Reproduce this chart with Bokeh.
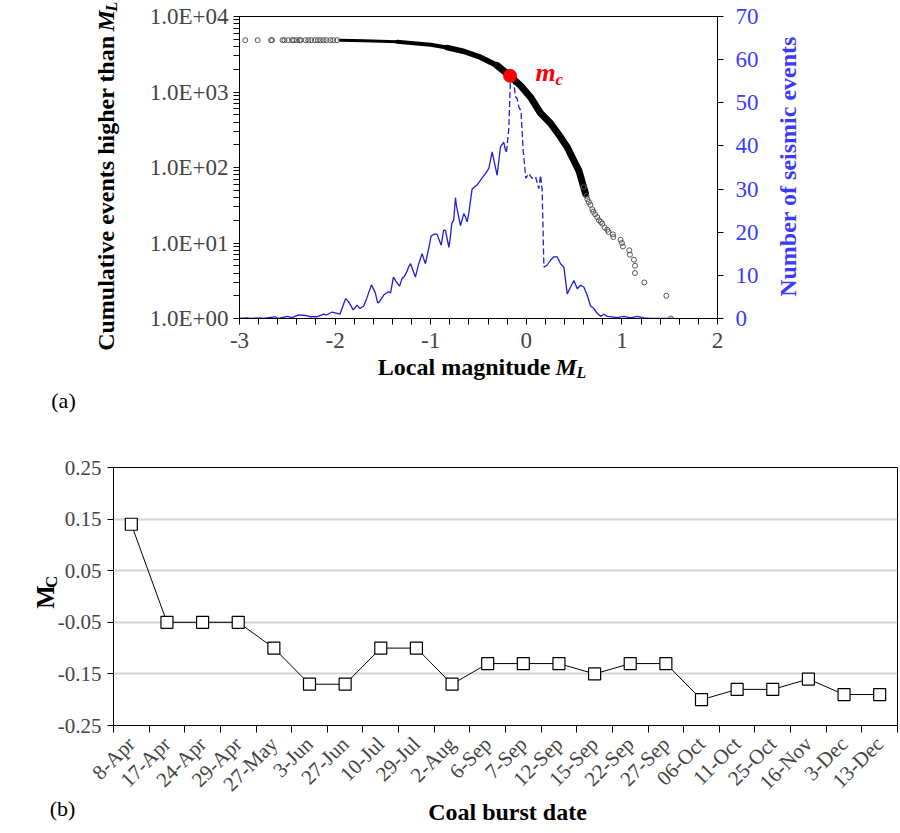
import math

from bokeh.embed import file_html
from bokeh.layouts import column
from bokeh.models import FixedTicker, Label, LinearAxis, LinearScale, Range1d
from bokeh.plotting import figure
from bokeh.resources import INLINE

# ---------------------------------------------------------------------------
# (a) magnitude distribution
# ---------------------------------------------------------------------------
# number of seismic events per magnitude bin
hist_mag = [
    -3.00, -2.92, -2.89, -2.78, -2.75, -2.63, -2.59, -2.50, -2.45, -2.38,
    -2.31, -2.26, -2.19, -2.12, -2.09, -2.03, -1.98, -1.95, -1.89, -1.86,
    -1.81, -1.77, -1.74, -1.70, -1.67, -1.62, -1.58, -1.555, -1.54, -1.49,
    -1.44, -1.42, -1.39, -1.36, -1.325, -1.30, -1.28, -1.25, -1.23, -1.21,
    -1.16, -1.125, -1.09, -1.055, -1.01, -0.996, -0.96, -0.933, -0.89, -0.865,
    -0.846, -0.81, -0.794, -0.78, -0.759, -0.741, -0.731, -0.689, -0.654, -0.637,
    -0.619, -0.602, -0.567, -0.514, -0.462, -0.427, -0.392, -0.357, -0.305, -0.270,
    -0.236, -0.218, -0.207, -0.183, -0.165, -0.148, -0.131, -0.113, -0.096, -0.078,
    -0.061, -0.054, -0.033, -0.005, 0.026, 0.061, 0.096, 0.131, 0.149, 0.166,
    0.184, 0.219, 0.253, 0.288, 0.323, 0.358, 0.393, 0.428, 0.463, 0.498,
    0.533, 0.567, 0.602, 0.637, 0.672, 0.707, 0.742, 0.777, 0.812, 0.847,
    0.899, 0.951, 1.021, 1.091, 1.161, 1.231, 1.301, 1.545,
]
hist_count = [
    0.0, 0.15, 0.0, 0.15, 0.0, 0.4, 0.0, 0.5, 0.2, 0.85,
    0.7, 0.4, 0.4, 1.0, 0.8, 1.5, 1.2, 1.0, 4.6, 3.9,
    2.0, 3.1, 2.3, 2.9, 4.6, 7.8, 6.0, 3.6, 3.8, 5.5,
    6.2, 5.9, 9.6, 8.5, 7.5, 9.3, 9.6, 10.8, 12.0, 12.7,
    9.6, 12.7, 15.0, 12.7, 17.4, 19.1, 19.6, 19.5, 17.0, 20.4,
    20.5, 16.5, 18.9, 22.0, 22.8, 28.0, 26.2, 21.5, 24.3, 23.6,
    22.4, 24.3, 30.0, 31.0, 32.6, 33.6, 34.8, 38.6, 33.2, 39.8,
    40.9, 39.0, 38.6, 44.0, 56.0, 56.4, 54.5, 51.4, 51.0, 49.1,
    48.3, 47.5, 39.0, 32.5, 33.6, 32.5, 32.9, 30.1, 33.2, 29.8,
    11.9, 12.4, 13.5, 14.3, 14.3, 12.7, 11.9, 5.7, 7.3, 8.8,
    6.9, 7.7, 7.3, 5.4, 2.9, 2.3, 1.2, 0.5, 1.0, 0.5,
    0.4, 0.2, 0.5, 0.15, 0.5, 0.15, 0.0, 0.0,
]

# cumulative number of events with magnitude higher than M_L
cum_left_mag = [
    -2.94, -2.81, -2.67, -2.66, -2.55, -2.53, -2.49, -2.45, -2.43, -2.40,
    -2.37, -2.36, -2.31, -2.28, -2.25, -2.21, -2.18, -2.15, -2.12, -2.09,
    -2.05, -2.02, -1.98,
]
cum_left_n = [4860] * len(cum_left_mag)

cum_mag = [
    -1.95, -1.70, -1.35, -1.18, -1.00, -0.83, -0.65, -0.48, -0.305, -0.173,
    -0.061, 0.044, 0.149, 0.253, 0.358, 0.428, 0.497, 0.550, 0.585, 0.620,
]
cum_n = [
    4860, 4764, 4619, 4436, 4217, 3884, 3436, 2891, 2244, 1637,
    1219, 854, 525, 386, 253, 186, 124, 91, 64, 45,
]

cum_right_mag = [
    0.60, 0.63, 0.64, 0.654, 0.67, 0.69, 0.70, 0.72, 0.742, 0.76,
    0.78, 0.795, 0.82, 0.847, 0.86, 0.906, 0.910, 0.986, 1.000, 1.011,
    1.077, 1.084, 1.126, 1.137, 1.137, 1.234, 1.465, 1.513,
]
cum_right_n = [
    55, 42, 38, 35, 32, 28, 26, 24, 22, 20,
    19, 18, 16, 15, 14, 13, 12, 11, 10, 9,
    8, 7, 6, 5, 4, 3, 2, 1,
]

# magnitude of completeness
mc_mag = -0.17
mc_n = 1640

x_major = [-3, -2, -1, 0, 1, 2]
x_minor = [-2.8, -2.6, -2.4, -2.2, -1.8, -1.6, -1.4, -1.2, -0.8, -0.6, -0.4,
           -0.2, 0.2, 0.4, 0.6, 0.8, 1.2, 1.4, 1.6, 1.8]
log_major = [1, 10, 100, 1000, 10000]
log_labels = ["1.0E+00", "1.0E+01", "1.0E+02", "1.0E+03", "1.0E+04"]
count_ticks = [0, 10, 20, 30, 40, 50, 60, 70]

# ---------------------------------------------------------------------------
# (b) M_C per coal burst
# ---------------------------------------------------------------------------
burst_dates = [
    "8-Apr", "17-Apr", "24-Apr", "29-Apr", "27-May", "3-Jun", "27-Jun",
    "10-Jul", "29-Jul", "2-Aug", "6-Sep", "7-Sep", "12-Sep", "15-Sep",
    "22-Sep", "27-Sep", "06-Oct", "11-Oct", "25-Oct", "16-Nov", "3-Dec",
    "13-Dec",
]
mc_values = [
    0.14, -0.05, -0.05, -0.05, -0.10, -0.17, -0.17, -0.10, -0.10, -0.17,
    -0.13, -0.13, -0.13, -0.15, -0.13, -0.13, -0.20, -0.18, -0.18, -0.16,
    -0.19, -0.19,
]
mc_ticks = [-0.25, -0.15, -0.05, 0.05, 0.15, 0.25]
mc_tick_labels = ["-0.25", "-0.15", "-0.05", "0.05", "0.15", "0.25"]

SERIF = "Liberation Serif"
BLUE_LINE = "#1f1fd8"
BLUE_TEXT = "#3b3bff"

# ---------------------------------------------------------------------------
# top panel
# ---------------------------------------------------------------------------
TOP_W, TOP_H = 900, 414
F_LEFT, F_TOP, F_W, F_H = 239, 16, 478, 302

p1 = figure(
    width=TOP_W, height=TOP_H,
    x_range=Range1d(-3, 2), y_range=Range1d(1, 10000), y_axis_type="log",
    output_backend="svg", toolbar_location=None,
    min_border_left=F_LEFT, min_border_right=TOP_W - F_LEFT - F_W,
    min_border_top=F_TOP, min_border_bottom=TOP_H - F_TOP - F_H,
)
p1.frame_align = False
p1.grid.visible = False
p1.outline_line_color = "black"
p1.outline_line_width = 1

p1.extra_y_ranges = {"count": Range1d(0, 70)}
p1.extra_y_scales = {"count": LinearScale()}
right_axis = LinearAxis(y_range_name="count")
p1.add_layout(right_axis, "right")

xa = p1.xaxis[0]
xa.ticker = FixedTicker(ticks=x_major, minor_ticks=x_minor)
xa.major_label_overrides = {v: str(v) for v in x_major}

ya = p1.yaxis[0]
ya.ticker = FixedTicker(
    ticks=log_major,
    minor_ticks=[m * 10 ** d for d in range(4) for m in range(2, 10)],
)
ya.major_label_overrides = dict(zip(log_major, log_labels))

right_axis.ticker = FixedTicker(ticks=count_ticks)
right_axis.major_label_text_color = BLUE_TEXT

for ax in (xa, ya, right_axis):
    ax.axis_line_color = "black"
    ax.axis_line_width = 1
    ax.major_tick_line_color = "black"
    ax.minor_tick_line_color = "black"
    ax.major_tick_in = 0
    ax.major_tick_out = 6
    ax.minor_tick_in = 0
    ax.minor_tick_out = 6
    ax.major_label_text_font = SERIF
    ax.major_label_text_font_size = "23px"
xa.major_label_standoff = 8
ya.major_label_standoff = 5
right_axis.major_label_standoff = 12

# events per bin: solid, dashed around the peak, solid again
lo, hi = -0.207, 0.184
seg1 = [(m, c) for m, c in zip(hist_mag, hist_count) if m <= lo]
seg2 = [(m, c) for m, c in zip(hist_mag, hist_count) if lo <= m <= hi]
seg3 = [(m, c) for m, c in zip(hist_mag, hist_count) if m >= hi]
for seg, dash in ((seg1, "solid"), (seg2, "6 3"), (seg3, "solid")):
    p1.line([s[0] for s in seg], [s[1] for s in seg], y_range_name="count",
            line_color=BLUE_LINE, line_width=1.3, line_dash=dash)

# cumulative curve: dense band where the event markers merge
bands = ((-1.96, -1.35, 3), (-1.35, -0.83, 4), (-0.83, -0.305, 5.5),
         (-0.305, 0.63, 7))
for a, b, w in bands:
    sel = [(m, n) for m, n in zip(cum_mag, cum_n) if a <= m <= b]
    p1.line([s[0] for s in sel], [s[1] for s in sel], line_color="black",
            line_width=w, line_cap="round", line_join="round")

p1.scatter(cum_left_mag, cum_left_n, marker="circle", size=5,
           fill_color=None, line_color="#555555", line_width=1)
p1.scatter(cum_right_mag, cum_right_n, marker="circle", size=5,
           fill_color=None, line_color="#555555", line_width=1)

p1.scatter([mc_mag], [mc_n], marker="circle", size=13, fill_color="red",
           line_color="red")


def top_xy(cx, cy):
    """canvas pixel -> data coordinates of the top panel"""
    x = -3 + (cx - F_LEFT) * 5.0 / F_W
    y = 10 ** (4 - (cy - F_TOP) * 4.0 / F_H)
    return x, y


def add_text(p, xy, text, size, style="normal", color="black", align="center",
             angle=0.0, side="center"):
    lab = Label(x=xy[0], y=xy[1], text=text, text_font=SERIF,
                text_font_size=size, text_font_style=style, text_color=color,
                text_align=align, text_baseline="middle", angle=angle)
    p.add_layout(lab, side)


add_text(p1, top_xy(535, 72), "m", "26px", "bold italic", "red", "left")
add_text(p1, top_xy(555, 79), "c", "17px", "bold italic", "red", "left")

# texts around the frame sit in side panels, so that they are not clipped
add_text(p1, top_xy(550, 366), "Local magnitude", "24px", "bold",
         align="right", side="below")
add_text(p1, top_xy(555, 366), "M", "24px", "bold italic", align="left",
         side="right")
add_text(p1, top_xy(576, 372), "L", "16px", "bold italic", align="left",
         side="right")
add_text(p1, top_xy(63, 400), "(a)", "22px", side="right")

add_text(p1, top_xy(105, 35), "Cumulative events higher than", "24px", "bold",
         align="right", angle=math.pi / 2, side="left")
add_text(p1, top_xy(105, 31), "M", "24px", "bold italic", align="left",
         angle=math.pi / 2, side="left")
add_text(p1, top_xy(111, 11), "L", "16px", "bold italic", align="left",
         angle=math.pi / 2, side="left")

add_text(p1, top_xy(787, 166), "Number of seismic events", "24px", "bold",
         BLUE_TEXT, angle=math.pi / 2, side="right")

# ---------------------------------------------------------------------------
# bottom panel
# ---------------------------------------------------------------------------
BOT_W, BOT_H = 900, 833 - TOP_H
B_LEFT, B_TOP, B_W, B_H = 113, 467 - TOP_H, 784, 261

p2 = figure(
    width=BOT_W, height=BOT_H,
    x_range=Range1d(0, len(burst_dates)), y_range=Range1d(-0.25, 0.25),
    output_backend="svg", toolbar_location=None,
    min_border_left=B_LEFT, min_border_right=BOT_W - B_LEFT - B_W,
    min_border_top=B_TOP, min_border_bottom=BOT_H - B_TOP - B_H,
)
p2.frame_align = False
p2.outline_line_color = "black"
p2.outline_line_width = 1
p2.xgrid.visible = False
p2.ygrid.ticker = FixedTicker(ticks=[-0.15, -0.05, 0.05, 0.15])
p2.ygrid.grid_line_color = "#d4d4d4"
p2.ygrid.grid_line_width = 2

centers = [i + 0.5 for i in range(len(burst_dates))]
bx = p2.xaxis[0]
bx.ticker = FixedTicker(ticks=centers,
                        minor_ticks=list(range(len(burst_dates) + 1)))
bx.major_label_overrides = dict(zip(centers, burst_dates))
bx.major_label_orientation = math.pi / 4
bx.major_tick_line_color = None
bx.minor_tick_line_color = "black"
bx.minor_tick_in = 0
bx.minor_tick_out = 7
bx.major_label_standoff = 8

by = p2.yaxis[0]
by.ticker = FixedTicker(ticks=mc_ticks)
by.major_label_overrides = dict(zip(mc_ticks, mc_tick_labels))
by.major_tick_in = 0
by.major_tick_out = 6
by.major_label_standoff = 6

for ax in (bx, by):
    ax.axis_line_color = "black"
    ax.major_label_text_font = SERIF
    ax.major_label_text_font_size = "21px"

p2.line(centers, mc_values, line_color="black", line_width=1)
p2.scatter(centers, mc_values, marker="square", size=12, fill_color="white",
           line_color="black", line_width=1.2)


def bot_xy(cx, cy):
    """canvas pixel (whole page) -> data coordinates of the bottom panel"""
    cy -= TOP_H
    x = (cx - B_LEFT) * len(burst_dates) / B_W
    y = 0.25 - (cy - B_TOP) * 0.5 / B_H
    return x, y


add_text(p2, bot_xy(507, 815), "Coal burst date", "24px", "bold",
         side="below")
add_text(p2, bot_xy(62, 812), "(b)", "22px", side="above")
add_text(p2, bot_xy(45, 610), "M", "25px", "bold", align="left",
         angle=math.pi / 2, side="left")
add_text(p2, bot_xy(51, 589), "C", "17px", "bold", align="left",
         angle=math.pi / 2, side="left")

page = column(p1, p2, spacing=0)
open("out.html", "w").write(file_html(page, INLINE))
